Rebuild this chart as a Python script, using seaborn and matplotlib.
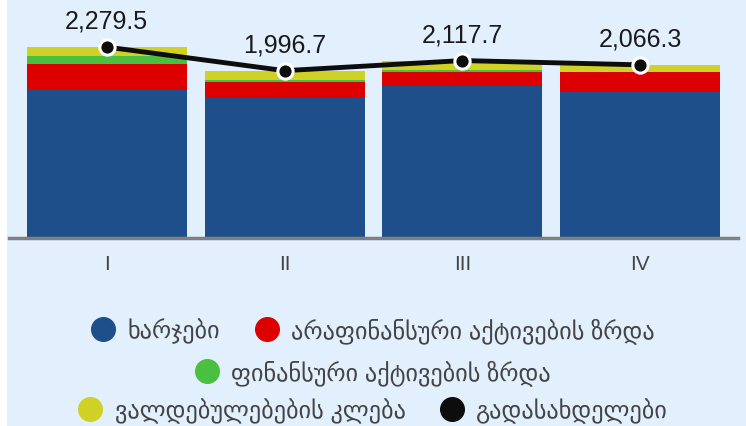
import numpy as np
import matplotlib
matplotlib.use("Agg")
import matplotlib.pyplot as plt
from matplotlib.patches import FancyBboxPatch
from matplotlib.lines import Line2D
import seaborn as sns

# data
quarters = ["I", "II", "III", "IV"]
expenses = [1769.0, 1673.0, 1813.0, 1741.0]
nonfin_assets = [307.0, 191.0, 168.0, 239.0]
fin_assets = [96.0, 24.0, 24.0, 0.0]
liab_decrease = [107.5, 108.7, 112.7, 86.3]
payments = [2279.5, 1996.7, 2117.7, 2066.3]

series_names = [
    "ხარჯები",
    "არაფინანსური აქტივების ზრდა",
    "ფინანსური აქტივების ზრდა",
    "ვალდებულებების კლება",
    "გადასახდელები",
]
colors = ["#1e4f8a", "#dd0000", "#4bbf3f", "#cfd124", "#0d0d0d"]

sns.set_style("white")
plt.rcParams["font.family"] = ["Liberation Sans", "DejaVu Sans"]

fig = plt.figure(figsize=(7.46, 4.27), dpi=100)
fig.patch.set_facecolor("white")
panel = FancyBboxPatch((7, -40), 742, 520,
                       boxstyle="round,pad=0,rounding_size=20",
                       transform=None, facecolor="#e2effc",
                       edgecolor="none", zorder=-5)
fig.patches.append(panel)

ax = fig.add_axes([9 / 746, (427 - 238.5) / 427, 729 / 746, 225.6 / 427])
ax.set_facecolor("none")
ax.set_zorder(2)

# stacked bars: draw cumulative heights, tallest first
layers = [expenses, nonfin_assets, fin_assets, liab_decrease]
cum = np.cumsum(np.array(layers), axis=0)
for i in range(len(layers) - 1, -1, -1):
    sns.barplot(x=quarters, y=cum[i], color=colors[i], width=0.9,
                saturation=1, linewidth=0, edgecolor="none", ax=ax, zorder=2)

pos = np.arange(len(quarters))
ax.plot(pos, payments, color=colors[4], lw=3.5, marker="o", ms=11,
        mfc=colors[4], mec="white", mew=2.2, zorder=5, solid_capstyle="round")
for x, v in zip(pos, payments):
    ax.annotate(f"{v:,.1f}", (x, v), xytext=(0, 14), textcoords="offset points",
                ha="center", va="baseline", fontsize=18, color="#1a1a1a")

ax.set_xlim(-0.55, 3.55)
ax.set_ylim(0, 2700)
ax.set_yticks([])
ax.set_xlabel("")
ax.set_ylabel("")
for s in ["top", "right", "left"]:
    ax.spines[s].set_visible(False)
ax.spines["bottom"].set_color("#808080")
ax.spines["bottom"].set_linewidth(2.5)
ax.tick_params(axis="x", length=0, pad=12, labelsize=15, labelcolor="#444444")

handles = [Line2D([], [], ls="none", marker="o", ms=17, mfc=c, mec=c) for c in colors]
legend_kw = dict(loc="center", frameon=False, handletextpad=0.5,
                 columnspacing=1.4, fontsize=17.5, labelcolor="#444444",
                 handlelength=1.0)
rows = [([0, 1], 331), ([2], 373), ([3, 4], 411)]
for idx, ypix in rows:
    leg = fig.legend([handles[i] for i in idx], [series_names[i] for i in idx],
                     bbox_to_anchor=(0.5, 1 - ypix / 427), ncol=len(idx), **legend_kw)

fig.savefig("out.png", dpi=100, facecolor=fig.get_facecolor())
